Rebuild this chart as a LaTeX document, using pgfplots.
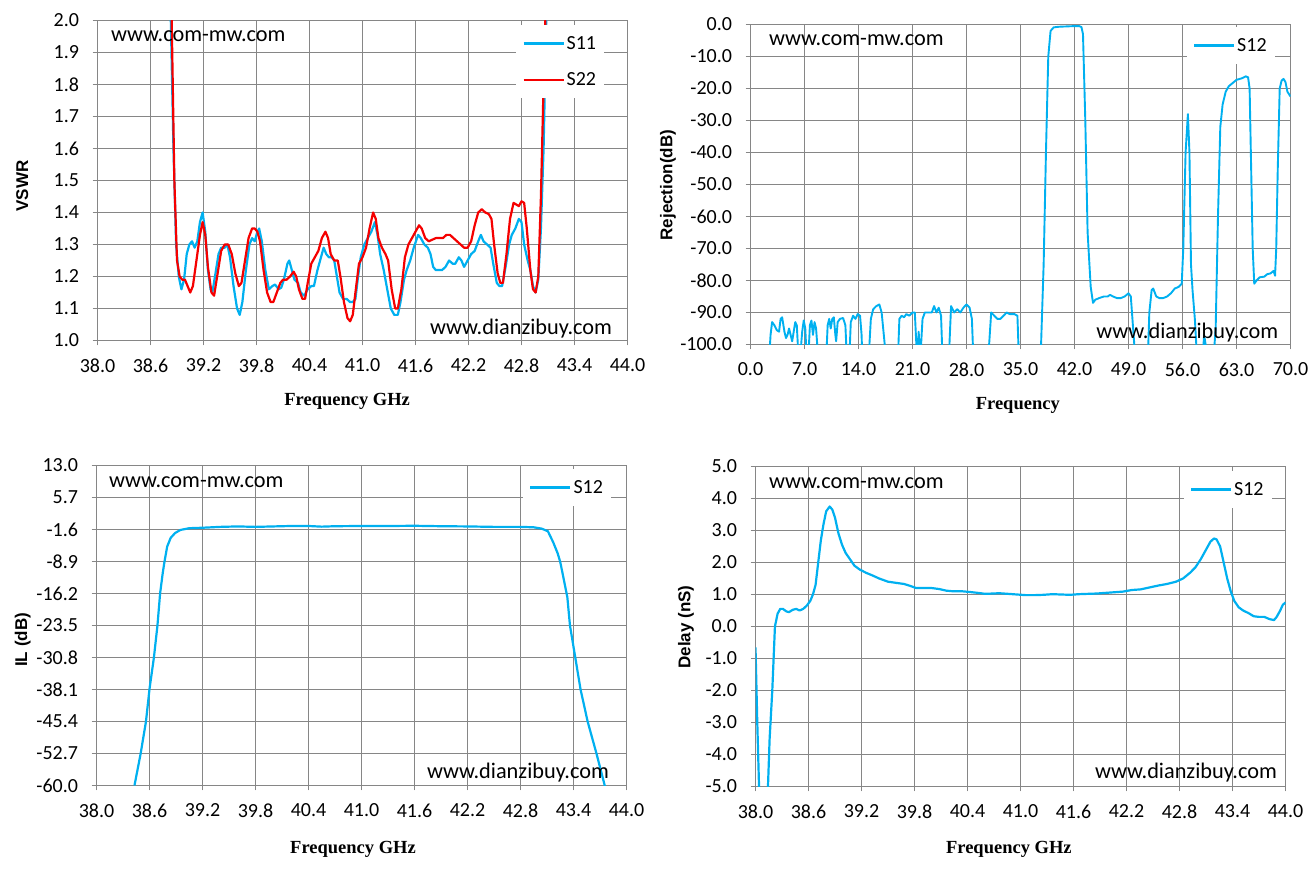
\documentclass[border=0pt]{standalone}
\usepackage{fontspec}
\setmainfont{Carlito}
\newfontfamily\arialf{Liberation Sans}
\newfontfamily\seriff{Liberation Serif}
\usepackage{pgfplots}
\pgfplotsset{compat=1.18}
\definecolor{exblue}{RGB}{0,176,240}
\definecolor{exred}{RGB}{245,0,0}
\definecolor{gridc}{RGB}{134,134,134}
\newcommand{\tfont}{\fontsize{20bp}{23bp}\selectfont}
\newcommand{\wfont}{\fontsize{22.3bp}{25bp}\selectfont}
\pgfplotsset{
 panel/.style={
  scale only axis,
  axis line style={draw=gridc, line width=1bp},
  grid=major,
  major grid style={draw=gridc, line width=1bp},
  tick align=outside,
  major tick length=5bp,
  major tick style={draw=gridc, line width=1bp},
  xtick pos=bottom, ytick pos=left,
  tick label style={font=\tfont},
  xticklabel shift=10bp,
  yticklabel shift=10bp,
  every axis y label/.style={rotate=90, anchor=center, font=\arialf\bfseries\fontsize{17bp}{19bp}\selectfont},
  every axis x label/.style={anchor=center, font=\seriff\bfseries\fontsize{18.5bp}{21bp}\selectfont},
  legend style={fill=white, draw=none, anchor=north west, font=\tfont, inner xsep=6bp, inner ysep=9bp, row sep=18bp, nodes={inner sep=2bp}},
  legend cell align=left,
  legend image code/.code={\draw[#1,line width=2.2bp] (0bp,0bp) -- (40bp,0bp);},
 },
 curve/.style={line width=2.2bp, no marks, line join=round},
}
\begin{document}
\begin{tikzpicture}
\path[use as bounding box] (0,0) rectangle (1314bp,869bp);
% ---------------- Panel 1: VSWR
\begin{axis}[panel, at={(97.5bp,528.5bp)}, anchor=south west, width=530bp, height=320bp,
  xmin=38, xmax=44, ymin=1, ymax=2,
  xtick={38,38.6,39.2,39.8,40.4,41,41.6,42.2,42.8,43.4,44},
  xticklabels={38.0,38.6,39.2,39.8,40.4,41.0,41.6,42.2,42.8,43.4,44.0},
  ytick={1,1.1,1.2,1.3,1.4,1.5,1.6,1.7,1.8,1.9,2},
  yticklabels={1.0,1.1,1.2,1.3,1.4,1.5,1.6,1.7,1.8,1.9,2.0},
  ylabel={VSWR}, xlabel={Frequency GHz},
  ylabel style={at={(axis description cs:-0.142,0.483)}},
  xlabel style={at={(axis description cs:0.471,-0.19)}},
  legend style={at={(axis description cs:0.79,0.986)}},
]
\addplot[curve, exblue] coordinates {
(38.80,2.6)(38.83,2.0)(38.86,1.6)(38.89,1.3)(38.92,1.2)(38.95,1.16)(38.98,1.19)(39.01,1.27)(39.04,1.30)(39.07,1.31)(39.10,1.29)(39.13,1.31)(39.16,1.37)(39.19,1.40)(39.22,1.34)(39.25,1.22)(39.28,1.16)(39.30,1.15)(39.33,1.20)(39.37,1.27)(39.40,1.29)(39.44,1.29)(39.47,1.30)(39.50,1.26)(39.54,1.17)(39.58,1.10)(39.61,1.08)(39.64,1.12)(39.68,1.22)(39.72,1.30)(39.75,1.32)(39.78,1.31)(39.81,1.34)(39.83,1.35)(39.86,1.31)(39.90,1.22)(39.94,1.16)(39.98,1.17)(40.01,1.175)(40.05,1.16)(40.08,1.165)(40.11,1.19)(40.15,1.24)(40.17,1.25)(40.20,1.22)(40.23,1.19)(40.27,1.18)(40.30,1.15)(40.34,1.14)(40.38,1.16)(40.42,1.17)(40.45,1.17)(40.49,1.22)(40.53,1.26)(40.56,1.29)(40.59,1.27)(40.62,1.26)(40.65,1.26)(40.68,1.25)(40.71,1.20)(40.74,1.15)(40.78,1.13)(40.82,1.13)(40.86,1.12)(40.89,1.12)(40.92,1.13)(40.95,1.20)(40.98,1.26)(41.02,1.30)(41.06,1.32)(41.10,1.34)(41.14,1.37)(41.17,1.33)(41.20,1.27)(41.24,1.22)(41.28,1.16)(41.32,1.10)(41.36,1.08)(41.40,1.08)(41.43,1.12)(41.47,1.19)(41.50,1.22)(41.54,1.25)(41.58,1.29)(41.63,1.33)(41.66,1.32)(41.70,1.30)(41.74,1.29)(41.77,1.27)(41.80,1.23)(41.83,1.22)(41.86,1.22)(41.90,1.22)(41.94,1.23)(41.98,1.25)(42.02,1.24)(42.05,1.24)(42.09,1.26)(42.12,1.25)(42.15,1.23)(42.19,1.25)(42.23,1.27)(42.27,1.28)(42.31,1.31)(42.34,1.33)(42.37,1.31)(42.41,1.30)(42.45,1.29)(42.48,1.24)(42.52,1.18)(42.55,1.17)(42.58,1.17)(42.62,1.23)(42.66,1.30)(42.69,1.33)(42.73,1.35)(42.77,1.38)(42.80,1.37)(42.83,1.30)(42.87,1.25)(42.90,1.22)(42.93,1.17)(42.96,1.15)(42.99,1.19)(43.02,1.35)(43.05,1.6)(43.08,2.0)(43.10,2.5)
};
\addlegendentry{S11}
\addplot[curve, exred] coordinates {
(38.81,2.6)(38.84,2.0)(38.87,1.5)(38.90,1.25)(38.93,1.20)(38.96,1.19)(38.99,1.19)(39.02,1.17)(39.05,1.15)(39.08,1.17)(39.12,1.25)(39.16,1.33)(39.19,1.37)(39.22,1.33)(39.25,1.23)(39.29,1.15)(39.32,1.14)(39.36,1.21)(39.40,1.28)(39.44,1.30)(39.48,1.30)(39.52,1.27)(39.56,1.21)(39.60,1.17)(39.63,1.18)(39.67,1.25)(39.71,1.32)(39.75,1.35)(39.78,1.35)(39.81,1.34)(39.84,1.31)(39.88,1.22)(39.92,1.15)(39.96,1.12)(39.99,1.12)(40.03,1.15)(40.07,1.18)(40.10,1.19)(40.14,1.19)(40.18,1.20)(40.22,1.215)(40.25,1.20)(40.28,1.16)(40.32,1.13)(40.35,1.13)(40.38,1.18)(40.42,1.24)(40.46,1.26)(40.50,1.28)(40.54,1.32)(40.58,1.34)(40.61,1.32)(40.64,1.27)(40.68,1.25)(40.72,1.25)(40.75,1.20)(40.79,1.12)(40.83,1.07)(40.86,1.06)(40.89,1.08)(40.92,1.15)(40.96,1.24)(41.00,1.26)(41.04,1.29)(41.08,1.35)(41.12,1.40)(41.15,1.38)(41.18,1.32)(41.22,1.29)(41.26,1.27)(41.29,1.25)(41.33,1.16)(41.37,1.10)(41.40,1.10)(41.44,1.16)(41.48,1.26)(41.52,1.30)(41.56,1.32)(41.60,1.34)(41.64,1.36)(41.67,1.35)(41.71,1.32)(41.75,1.31)(41.79,1.315)(41.83,1.32)(41.87,1.32)(41.91,1.32)(41.95,1.33)(41.99,1.33)(42.03,1.32)(42.07,1.31)(42.11,1.30)(42.15,1.29)(42.19,1.29)(42.23,1.31)(42.27,1.36)(42.31,1.40)(42.35,1.41)(42.39,1.40)(42.43,1.395)(42.46,1.38)(42.49,1.30)(42.53,1.21)(42.56,1.18)(42.59,1.18)(42.63,1.27)(42.67,1.38)(42.71,1.43)(42.74,1.425)(42.77,1.42)(42.80,1.435)(42.83,1.43)(42.86,1.35)(42.90,1.22)(42.93,1.16)(42.96,1.15)(42.99,1.20)(43.02,1.45)(43.05,1.8)(43.08,2.1)(43.10,2.5)
};
\addlegendentry{S22}
\node[anchor=west, font=\wfont] at (axis description cs:0.019,0.952) {www.com-mw.com};
\node[anchor=west, font=\wfont] at (axis description cs:0.621,0.036) {www.dianzibuy.com};
\end{axis}
% ---------------- Panel 2: Rejection
\begin{axis}[panel, at={(750.5bp,524.5bp)}, anchor=south west, width=540bp, height=320bp,
  xmin=0, xmax=70, ymin=-100, ymax=0,
  xtick={0,7,14,21,28,35,42,49,56,63,70},
  xticklabels={0.0,7.0,14.0,21.0,28.0,35.0,42.0,49.0,56.0,63.0,70.0},
  ytick={-100,-90,-80,-70,-60,-50,-40,-30,-20,-10,0},
  yticklabels={-100.0,-90.0,-80.0,-70.0,-60.0,-50.0,-40.0,-30.0,-20.0,-10.0,0.0},
  ylabel={Rejection(dB)}, xlabel={Frequency},
  ylabel style={at={(axis description cs:-0.153,0.498)}},
  xlabel style={at={(axis description cs:0.495,-0.189)}},
  legend style={at={(axis description cs:0.808,0.992)}},
]
\addplot[curve, exblue, line width=1.9bp] coordinates {
(2.4,-105)(2.6,-97)(2.8,-93)(3.1,-94)(3.4,-95.5)(3.7,-96)(3.9,-92)(4.1,-91.5)(4.4,-96)(4.6,-98)(4.8,-97)(5.0,-95)(5.2,-97)(5.4,-99)(5.6,-96)(5.8,-93)(6.0,-94)(6.2,-103)(6.4,-105)(6.7,-96)(6.9,-92.5)(7.1,-95)(7.3,-105)(7.5,-104)(7.7,-94)(7.9,-92.5)(8.1,-97)(8.3,-93)(8.5,-95)(8.8,-105)
(9.8,-105)(10.0,-94)(10.2,-92)(10.4,-95)(10.6,-92)(10.8,-91.5)(11.0,-97)(11.1,-99)(11.3,-93)(11.6,-92)(12.0,-91.7)(12.3,-94)(12.5,-105)(12.8,-105)(13.0,-93)(13.3,-91)(13.6,-92)(13.9,-90.5)(14.2,-91)(14.4,-97)(14.5,-105)
(15.3,-105)(15.6,-92)(15.9,-89)(16.3,-88)(16.7,-87.5)(17.0,-90)(17.4,-100)(17.6,-105)
(19.1,-105)(19.3,-92)(19.6,-91)(19.9,-91.5)(20.2,-90.5)(20.6,-91)(21.0,-90)(21.3,-90)(21.6,-105)(21.8,-96)(22.0,-105)(22.3,-92)(22.6,-90)(23.0,-90)(23.5,-90)(23.8,-88)(24.1,-90)(24.4,-88.5)(24.7,-91)(24.9,-105)
(25.7,-105)(26.0,-88)(26.4,-90)(26.8,-89)(27.2,-90)(27.6,-88.5)(28.0,-87.5)(28.4,-88.5)(28.7,-92)(28.9,-105)
(30.8,-105)(31.2,-90)(31.6,-91)(32.0,-92)(32.4,-92)(32.8,-91)(33.2,-90)(33.6,-90.5)(34.2,-90.5)(34.6,-91)(34.8,-105)
(37.6,-105)(38.0,-75)(38.3,-40)(38.6,-10)(38.9,-2)(39.3,-0.9)(40.0,-0.7)(41.0,-0.6)(42.0,-0.5)(42.6,-0.5)(42.9,-0.8)(43.1,-3)(43.4,-30)(43.7,-65)(44.1,-82)(44.4,-87)(44.7,-86)(45.2,-85.5)(45.8,-85)(46.3,-85)(46.6,-84.5)(47.0,-85)(47.5,-85.5)(48.0,-85.5)(48.5,-85)(49.0,-84)(49.3,-85)(49.6,-95)(49.9,-105)
(51.5,-105)(51.7,-90)(52.0,-83)(52.2,-82.5)(52.6,-85)(53.0,-85.5)(53.5,-85.5)(54.0,-85)(54.5,-84)(55.0,-82.5)(55.5,-82)(55.9,-81)(56.1,-70)(56.4,-40)(56.7,-28)(56.9,-40)(57.1,-75)(57.3,-83)(57.6,-92)(57.9,-105)
(58.6,-105)(58.8,-97)(59.0,-100)(59.3,-105)(60.0,-105)(60.3,-95)(60.6,-60)(60.9,-32)(61.2,-25)(61.6,-21)(62.0,-19.3)(62.5,-18.3)(63.0,-17.3)(63.7,-16.8)(64.2,-16.2)(64.5,-16.5)(64.7,-20)(64.9,-45)(65.1,-70)(65.3,-81)(65.6,-80)(66.0,-79)(66.6,-78.8)(67.0,-78)(67.4,-77.8)(67.8,-77)(68.0,-78.5)(68.15,-70)(68.35,-45)(68.6,-20)(68.85,-17.5)(69.1,-17)(69.35,-18)(69.6,-21)(70,-22.5)
};
\addlegendentry{S12}
\node[anchor=west, font=\wfont] at (axis description cs:0.028,0.952) {www.com-mw.com};
\node[anchor=west, font=\wfont] at (axis description cs:0.634,0.036) {www.dianzibuy.com};
\end{axis}
% ---------------- Panel 3: IL
\begin{axis}[panel, at={(96.5bp,83.5bp)}, anchor=south west, width=530bp, height=320bp,
  xmin=38, xmax=44, ymin=-60, ymax=13,
  xtick={38,38.6,39.2,39.8,40.4,41,41.6,42.2,42.8,43.4,44},
  xticklabels={38.0,38.6,39.2,39.8,40.4,41.0,41.6,42.2,42.8,43.4,44.0},
  ytick={-60,-52.7,-45.4,-38.1,-30.8,-23.5,-16.2,-8.9,-1.6,5.7,13},
  yticklabels={-60.0,-52.7,-45.4,-38.1,-30.8,-23.5,-16.2,-8.9,-1.6,5.7,13.0},
  ylabel={IL (dB)}, xlabel={Frequency GHz},
  ylabel style={at={(axis description cs:-0.139,0.455)}},
  xlabel style={at={(axis description cs:0.484,-0.2)}},
  legend style={at={(axis description cs:0.805,0.989)}},
]
\addplot[curve, exblue] coordinates {
(38.43,-60)(38.50,-52.7)(38.56,-45.4)(38.60,-38)(38.65,-30.8)(38.69,-23.5)(38.72,-16.2)(38.75,-11.5)(38.77,-8.9)(38.80,-5.5)(38.84,-3.5)(38.89,-2.4)(38.95,-1.7)(39.05,-1.3)(39.20,-1.2)(39.40,-1.0)(39.60,-0.9)(39.80,-1.0)(40.00,-0.9)(40.20,-0.8)(40.40,-0.8)(40.55,-0.95)(40.70,-0.85)(41.00,-0.8)(41.30,-0.8)(41.60,-0.75)(41.90,-0.85)(42.20,-0.9)(42.50,-1.0)(42.80,-1.0)(42.95,-1.1)(43.04,-1.4)(43.11,-2.0)(43.17,-4.5)(43.22,-7)(43.25,-9)(43.29,-13)(43.33,-17)(43.36,-23.5)(43.42,-30.8)(43.48,-38.1)(43.56,-45.4)(43.66,-52.7)(43.76,-60.5)
};
\addlegendentry{S12}
\node[anchor=west, font=\wfont] at (axis description cs:0.017,0.948) {www.com-mw.com};
\node[anchor=west, font=\wfont] at (axis description cs:0.617,0.042) {www.dianzibuy.com};
\end{axis}
% ---------------- Panel 4: Delay
\begin{axis}[panel, at={(755.5bp,82.5bp)}, anchor=south west, width=530bp, height=320bp,
  xmin=38, xmax=44, ymin=-5, ymax=5,
  xtick={38,38.6,39.2,39.8,40.4,41,41.6,42.2,42.8,43.4,44},
  xticklabels={38.0,38.6,39.2,39.8,40.4,41.0,41.6,42.2,42.8,43.4,44.0},
  ytick={-5,-4,-3,-2,-1,0,1,2,3,4,5},
  yticklabels={-5.0,-4.0,-3.0,-2.0,-1.0,0.0,1.0,2.0,3.0,4.0,5.0},
  ylabel={Delay (nS)}, xlabel={Frequency GHz},
  ylabel style={at={(axis description cs:-0.131,0.498)}},
  xlabel style={at={(axis description cs:0.478,-0.198)}},
  legend style={at={(axis description cs:0.808,0.986)}},
]
\addplot[curve, exblue] coordinates {
(38.00,-0.65)(38.02,-3)(38.045,-5.5)(38.09,-7.5)(38.135,-5.5)(38.16,-3.5)(38.19,-2.0)(38.22,0.0)(38.25,0.4)(38.28,0.55)(38.31,0.55)(38.35,0.47)(38.38,0.45)(38.42,0.52)(38.46,0.55)(38.50,0.5)(38.54,0.55)(38.58,0.65)(38.62,0.8)(38.65,1.0)(38.68,1.3)(38.71,2.0)(38.74,2.7)(38.77,3.2)(38.80,3.6)(38.84,3.75)(38.87,3.65)(38.90,3.4)(38.94,2.9)(38.98,2.55)(39.02,2.3)(39.07,2.1)(39.12,1.9)(39.18,1.78)(39.25,1.68)(39.32,1.6)(39.40,1.5)(39.50,1.4)(39.60,1.36)(39.68,1.33)(39.75,1.27)(39.82,1.2)(39.90,1.2)(40.00,1.2)(40.08,1.17)(40.16,1.12)(40.24,1.1)(40.34,1.1)(40.42,1.08)(40.52,1.05)(40.60,1.02)(40.68,1.03)(40.76,1.04)(40.86,1.02)(40.96,1.0)(41.06,0.98)(41.16,0.98)(41.26,0.99)(41.36,1.01)(41.46,1.0)(41.56,0.99)(41.66,1.01)(41.76,1.02)(41.86,1.03)(41.96,1.05)(42.06,1.07)(42.16,1.09)(42.26,1.14)(42.36,1.16)(42.46,1.22)(42.56,1.28)(42.66,1.33)(42.76,1.4)(42.84,1.5)(42.92,1.68)(42.98,1.85)(43.04,2.1)(43.10,2.4)(43.15,2.65)(43.19,2.75)(43.22,2.72)(43.26,2.5)(43.30,2.0)(43.34,1.5)(43.38,1.1)(43.42,0.8)(43.47,0.6)(43.52,0.5)(43.58,0.42)(43.64,0.32)(43.70,0.3)(43.76,0.3)(43.82,0.23)(43.87,0.2)(43.90,0.3)(43.94,0.5)(43.97,0.68)(44.00,0.75)
};
\addlegendentry{S12}
\node[anchor=west, font=\wfont] at (axis description cs:0.019,0.948) {www.com-mw.com};
\node[anchor=west, font=\wfont] at (axis description cs:0.634,0.045) {www.dianzibuy.com};
\end{axis}
\end{tikzpicture}
\end{document}
